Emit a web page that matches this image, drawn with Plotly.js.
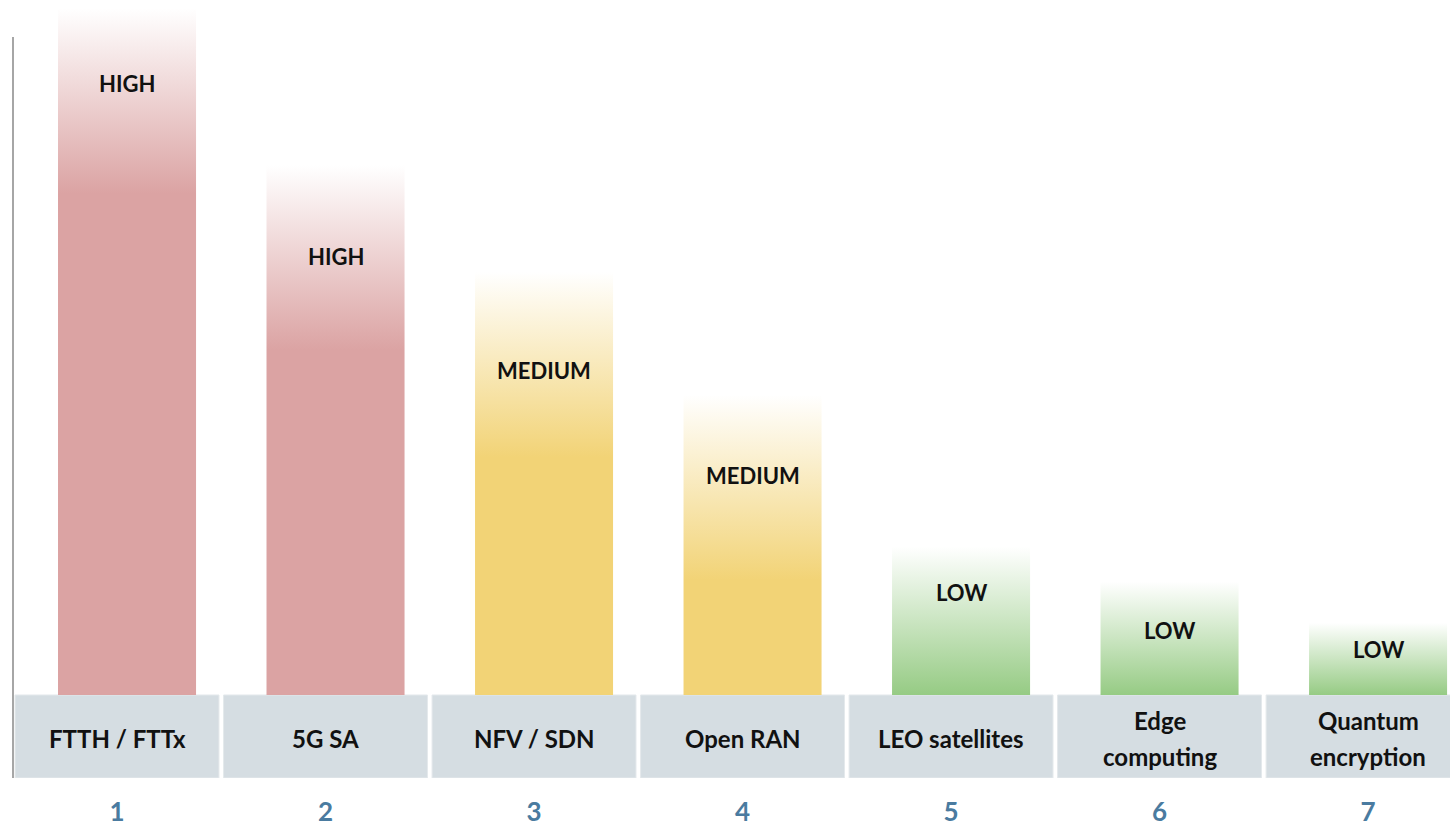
<!DOCTYPE html>
<html>
<head>
<meta charset="utf-8">
<script src="https://cdn.plot.ly/plotly-3.0.1.min.js"></script>
<style>
  html, body { margin: 0; padding: 0; background: #ffffff; }
  #chart { width: 1450px; height: 826px; }
</style>
</head>
<body>
<div id="chart"></div>
<script>
// ---- data ----
const positions = [1, 2, 3, 4, 5, 6, 7];
const tickLabels = ['1', '2', '3', '4', '5', '6', '7'];
const categories = ['FTTH / FTTx', '5G SA', 'NFV / SDN', 'Open RAN', 'LEO satellites', 'Edge<br>computing', 'Quantum<br>encryption'];
const values = [100, 77.2, 61.6, 43.7, 21.6, 16.5, 10.5];
const levels = ['HIGH', 'HIGH', 'MEDIUM', 'MEDIUM', 'LOW', 'LOW', 'LOW'];

// ---- style ----
const levelColors = {
  HIGH:   { solid: 'rgba(219,163,163,1)', clear: 'rgba(219,163,163,0)' },
  MEDIUM: { solid: 'rgba(242,211,118,1)', clear: 'rgba(242,211,118,0)' },
  LOW:    { solid: 'rgba(150,203,132,1)', clear: 'rgba(150,203,132,0)' }
};
const labelDropPx = [75, 92, 99, 81, 46, 49, 27];
const FADE = 27;          // length of the top fade, in y units
const BAR_OFFSET = 0.048; // bar centre shift relative to the category box
const BAR_HALF = 0.331;
const BOX_HALF = 0.489;
const Y_MIN = -12.09, Y_MAX = 101.21;
const LINE_GAP_PX = 36;
const FONT = 'Lato, "Open Sans", sans-serif';

const traces = [];
const annotations = [];
const shapes = [];

positions.forEach((p, i) => {
  const v = values[i];
  const c = levelColors[levels[i]];
  const l = p + BAR_OFFSET - BAR_HALF, r = p + BAR_OFFSET + BAR_HALF;
  traces.push({
    type: 'scatter',
    mode: 'lines',
    x: [l, r, r, l, l],
    y: [0, 0, v, v, 0],
    fill: 'toself',
    line: { width: 0, color: 'rgba(0,0,0,0)' },
    fillgradient: {
      type: 'vertical',
      start: Math.max(0, v - FADE),
      stop: v,
      colorscale: [[0, c.solid], [1, c.clear]]
    },
    hoverinfo: 'skip',
    showlegend: false
  });
  annotations.push({
    x: p + BAR_OFFSET, y: v, xref: 'x', yref: 'y',
    yshift: -labelDropPx[i], yanchor: 'middle', xanchor: 'center',
    text: levels[i], showarrow: false,
    font: { family: FONT, size: 22, color: '#111111', weight: 'bold' }
  });
  shapes.push({
    type: 'rect', xref: 'x', yref: 'y',
    x0: p - BOX_HALF, x1: p + BOX_HALF, y0: Y_MIN, y1: 0,
    fillcolor: '#D5DDE2', line: { color: '#E4E9EC', width: 1 }, layer: 'below'
  });
  const lines = categories[i].split('<br>');
  lines.forEach((t, k) => {
    annotations.push({
      x: p, y: Y_MIN / 2, xref: 'x', yref: 'y',
      yshift: -(k - (lines.length - 1) / 2) * LINE_GAP_PX - 2,
      yanchor: 'middle', xanchor: 'center',
      text: t, showarrow: false,
      font: { family: FONT, size: 24, color: '#111111', weight: 'bold' }
    });
  });
});

// left axis line
shapes.push({
  type: 'line', xref: 'paper', yref: 'paper',
  x0: 13 / 1450, x1: 13 / 1450, y0: 0, y1: (778 - 37) / 778,
  line: { color: '#A6A6A6', width: 2 }
});

const layout = {
  width: 1450, height: 826,
  margin: { l: 0, r: 0, t: 0, b: 48, pad: 0 },
  paper_bgcolor: '#ffffff', plot_bgcolor: '#ffffff',
  showlegend: false,
  xaxis: {
    range: [0.4388, 7.393],
    tickvals: positions, ticktext: tickLabels,
    tickfont: { family: FONT, size: 26, color: '#4A7BA0', weight: 'bold' },
    showgrid: false, zeroline: false, showline: false, ticks: '',
    ticklabelstandoff: 16, fixedrange: true
  },
  yaxis: {
    range: [Y_MIN, Y_MAX], visible: false, showgrid: false, zeroline: false, fixedrange: true
  },
  shapes: shapes,
  annotations: annotations
};

Plotly.newPlot('chart', traces, layout, { displayModeBar: false, staticPlot: true });
</script>
</body>
</html>
